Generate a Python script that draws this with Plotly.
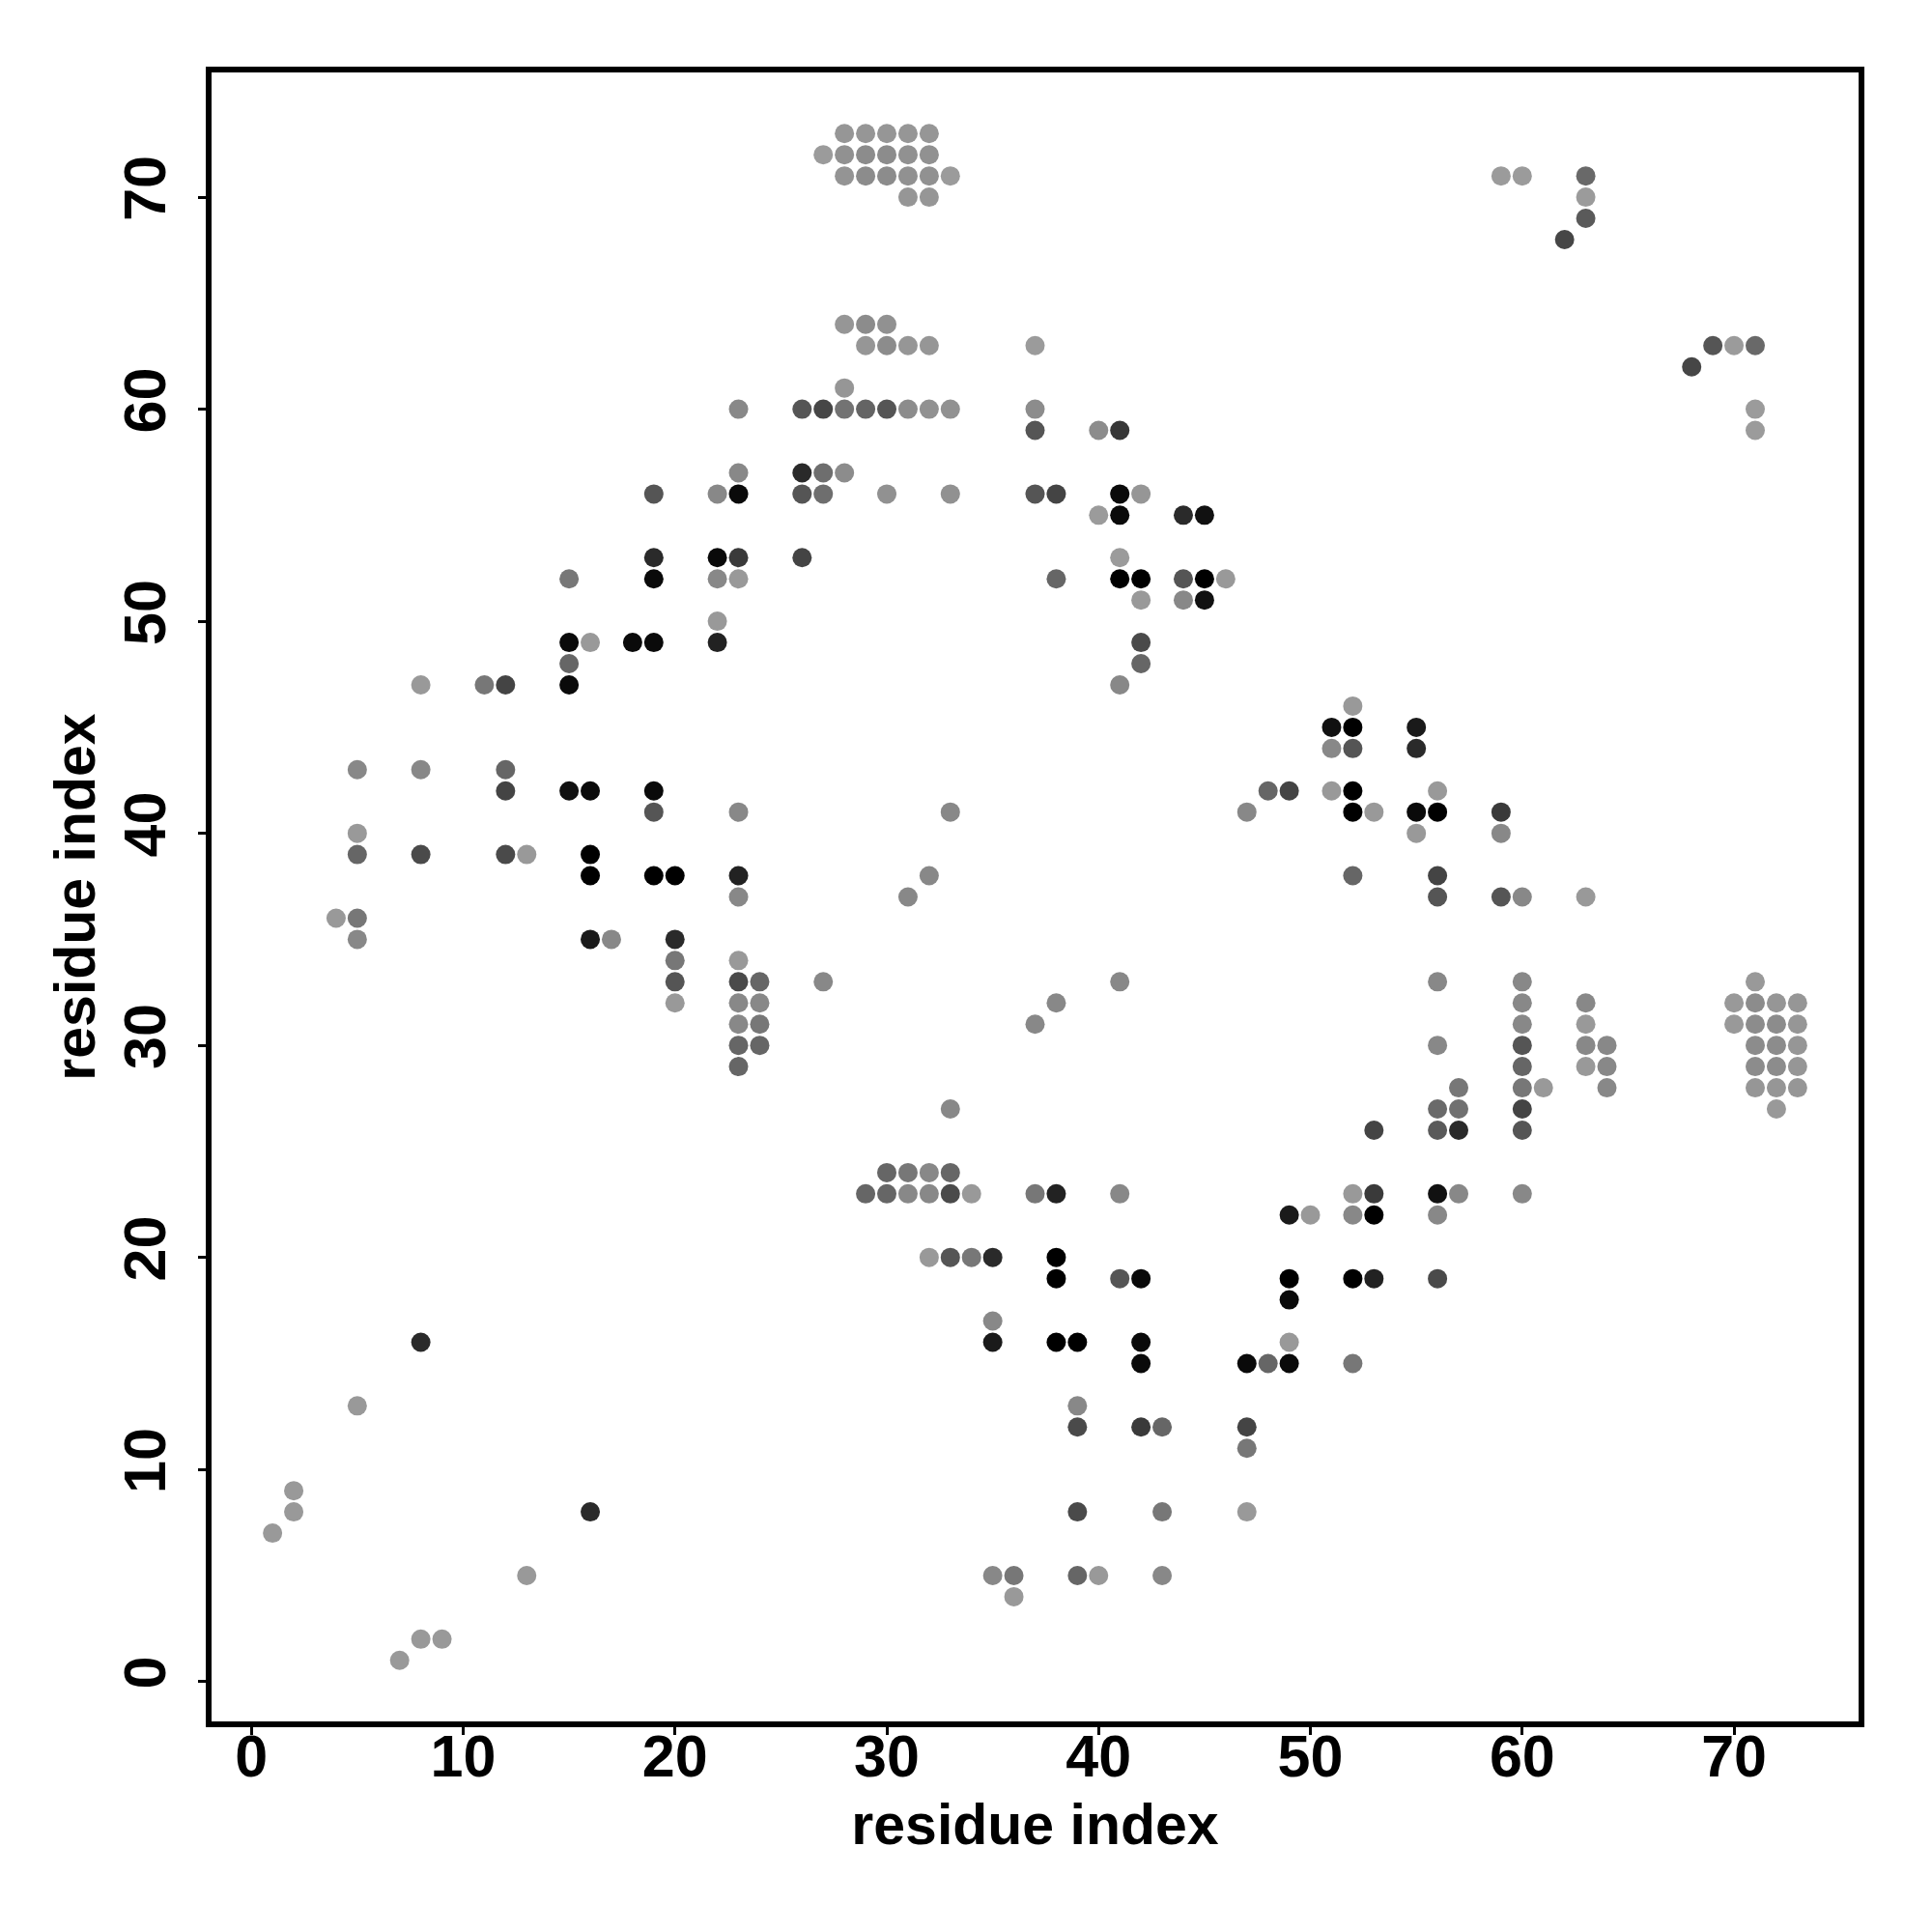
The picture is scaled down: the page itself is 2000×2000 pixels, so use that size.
import plotly.graph_objects as go

# contact map: residue i (x), residue j (y), gray level of the dot (0 = black)
res_x = [
    28, 29, 30, 31, 32,
    27, 28, 29, 30, 31, 32,
    28, 29, 30, 31, 32, 33, 59, 60, 63,
    31, 32, 63,
    63,
    62,
    28, 29, 30,
    29, 30, 31, 32, 37, 69, 70, 71,
    68,
    28,
    23, 26, 27, 28, 29, 30, 31, 32, 33, 37, 71,
    37, 40, 41, 71,
    23, 26, 27, 28,
    19, 22, 23, 26, 27, 30, 33, 37, 38, 41, 42,
    40, 41, 44, 45,
    19, 22, 23, 26, 41,
    15, 19, 22, 23, 38, 41, 42, 44, 45, 46,
    42, 44, 45,
    22,
    15, 16, 18, 19, 22, 42,
    15, 42,
    8, 11, 12, 15, 41,
    52,
    51, 52, 55,
    51, 52, 55,
    5, 8, 12,
    12, 15, 16, 19, 48, 49, 51, 52, 56,
    19, 23, 33, 47, 52, 53, 55, 56, 59,
    5, 55, 59,
    5, 8, 12, 13, 16,
    16, 19, 20, 23, 32, 52, 56,
    23, 31, 56, 59, 60, 63,
    4, 5,
    5, 16, 17, 20,
    20, 23,
    20, 23, 24, 27, 41, 56, 60, 71,
    20, 23, 24, 38, 60, 63, 70, 71, 72, 73,
    23, 24, 37, 60, 63, 70, 71, 72, 73,
    23, 24, 56, 60, 63, 64, 71, 72, 73,
    23, 60, 63, 64, 71, 72, 73,
    57, 60, 61, 64, 71, 72, 73,
    33, 56, 57, 60, 72,
    53, 56, 57, 60,
    30, 31, 32, 33,
    29, 30, 31, 32, 33, 34, 37, 38, 41, 52, 53, 56, 57, 60,
    49, 50, 52, 53, 56,
    32, 33, 34, 35, 38,
    38, 41, 42, 49, 52, 53, 56,
    49,
    35,
    8, 35, 38, 39, 42, 49,
    42, 47, 48, 49, 52,
    5, 39,
    39, 42, 43, 47,
    47,
    2,
    2, 16, 39, 43, 47,
    1,
    13, 35, 36, 39, 40, 43,
    36,
    8, 9,
    7,
]

res_y = [
    73, 73, 73, 73, 73,
    72, 72, 72, 72, 72, 72,
    71, 71, 71, 71, 71, 71, 71, 71, 71,
    70, 70, 70,
    69,
    68,
    64, 64, 64,
    63, 63, 63, 63, 63, 63, 63, 63,
    62,
    61,
    60, 60, 60, 60, 60, 60, 60, 60, 60, 60, 60,
    59, 59, 59, 59,
    57, 57, 57, 57,
    56, 56, 56, 56, 56, 56, 56, 56, 56, 56, 56,
    55, 55, 55, 55,
    53, 53, 53, 53, 53,
    52, 52, 52, 52, 52, 52, 52, 52, 52, 52,
    51, 51, 51,
    50,
    49, 49, 49, 49, 49, 49,
    48, 48,
    47, 47, 47, 47, 47,
    46,
    45, 45, 45,
    44, 44, 44,
    43, 43, 43,
    42, 42, 42, 42, 42, 42, 42, 42, 42,
    41, 41, 41, 41, 41, 41, 41, 41, 41,
    40, 40, 40,
    39, 39, 39, 39, 39,
    38, 38, 38, 38, 38, 38, 38,
    37, 37, 37, 37, 37, 37,
    36, 36,
    35, 35, 35, 35,
    34, 34,
    33, 33, 33, 33, 33, 33, 33, 33,
    32, 32, 32, 32, 32, 32, 32, 32, 32, 32,
    31, 31, 31, 31, 31, 31, 31, 31, 31,
    30, 30, 30, 30, 30, 30, 30, 30, 30,
    29, 29, 29, 29, 29, 29, 29,
    28, 28, 28, 28, 28, 28, 28,
    27, 27, 27, 27, 27,
    26, 26, 26, 26,
    24, 24, 24, 24,
    23, 23, 23, 23, 23, 23, 23, 23, 23, 23, 23, 23, 23, 23,
    22, 22, 22, 22, 22,
    20, 20, 20, 20, 20,
    19, 19, 19, 19, 19, 19, 19,
    18,
    17,
    16, 16, 16, 16, 16, 16,
    15, 15, 15, 15, 15,
    13, 13,
    12, 12, 12, 12,
    11,
    9,
    8, 8, 8, 8, 8,
    7,
    5, 5, 5, 5, 5, 5,
    4,
    2, 2,
    1,
]

shade = [
    150, 150, 150, 150, 150,
    155, 145, 140, 140, 145, 145,
    148, 140, 140, 145, 145, 155, 155, 155, 105,
    150, 150, 155,
    90,
    70,
    150, 140, 145,
    150, 140, 150, 150, 155, 85, 155, 105,
    70,
    150,
    136, 85, 70, 115, 100, 85, 140, 145, 145, 140, 155,
    85, 140, 55, 155,
    136, 42, 110, 140,
    85, 136, 10, 85, 110, 145, 145, 85, 68, 10, 150,
    155, 10, 42, 17,
    42, 10, 58, 68, 155,
    119, 10, 136, 153, 102, 0, 0, 85, 0, 153,
    153, 136, 17,
    153,
    10, 153, 10, 10, 34, 74,
    102, 102,
    153, 119, 68, 10, 136,
    153,
    17, 0, 26,
    136, 85, 42,
    136, 136, 102,
    68, 17, 10, 10, 102, 68, 153, 0, 153,
    85, 136, 136, 136, 0, 153, 10, 0, 58,
    153, 153, 136,
    102, 74, 74, 153, 0,
    0, 0, 0, 34, 136, 102, 68,
    136, 136, 85, 85, 136, 153,
    153, 119,
    136, 26, 136, 42,
    119, 153,
    85, 74, 102, 136, 136, 136, 136, 153,
    153, 136, 136, 136, 136, 136, 153, 140, 150, 150,
    136, 119, 136, 136, 153, 153, 140, 140, 150,
    102, 102, 136, 85, 136, 136, 140, 140, 150,
    102, 102, 153, 136, 140, 140, 150,
    119, 119, 153, 136, 150, 150, 150,
    136, 106, 112, 68, 153,
    68, 90, 42, 85,
    102, 119, 136, 102,
    102, 102, 136, 136, 74, 153, 119, 34, 136, 153, 58, 17, 136, 136,
    26, 153, 136, 0, 136,
    153, 85, 119, 42, 0,
    0, 85, 10, 0, 0, 34, 74,
    10,
    136,
    42, 26, 0, 0, 10, 153,
    10, 10, 102, 10, 119,
    153, 136,
    74, 58, 102, 68,
    119,
    153,
    153, 42, 74, 119, 153,
    153,
    153, 136, 119, 102, 153, 136,
    153,
    153, 153,
    153,
]

tick_vals = [0, 10, 20, 30, 40, 50, 60, 70]
x_range = [-1.88, 75.88]
y_range = [-1.88, 75.88]

colors = [f"rgb({g},{g},{g})" for g in shade]

fig = go.Figure(
    go.Scatter(
        x=res_x,
        y=res_y,
        mode="markers",
        marker=dict(size=20, color=colors, line=dict(width=0)),
        hoverinfo="x+y",
    )
)

font_family = "Liberation Sans, Arial, Helvetica, sans-serif"
axis_common = dict(
    tickvals=tick_vals,
    ticks="outside",
    ticklen=8,
    tickwidth=3,
    tickcolor="black",
    showline=True,
    linewidth=6,
    linecolor="black",
    mirror=True,
    showgrid=False,
    zeroline=False,
    tickfont=dict(family=font_family, size=61, color="black", weight="bold"),
)

fig.update_layout(
    width=1992,
    height=1992,
    margin=dict(l=211, r=76, t=67, b=218, autoexpand=False),
    paper_bgcolor="white",
    plot_bgcolor="white",
    showlegend=False,
    xaxis=dict(
        range=x_range,
        ticklabelstandoff=-30,
        title=dict(text="residue index", standoff=18,
                   font=dict(family=font_family, size=59, color="black", weight="bold")),
        **axis_common,
    ),
    yaxis=dict(
        range=y_range,
        tickangle=-90,
        ticklabelstandoff=10,
        title=dict(text="residue index", standoff=0,
                   font=dict(family=font_family, size=59, color="black", weight="bold")),
        **axis_common,
    ),
)

fig.write_html("out.html")
